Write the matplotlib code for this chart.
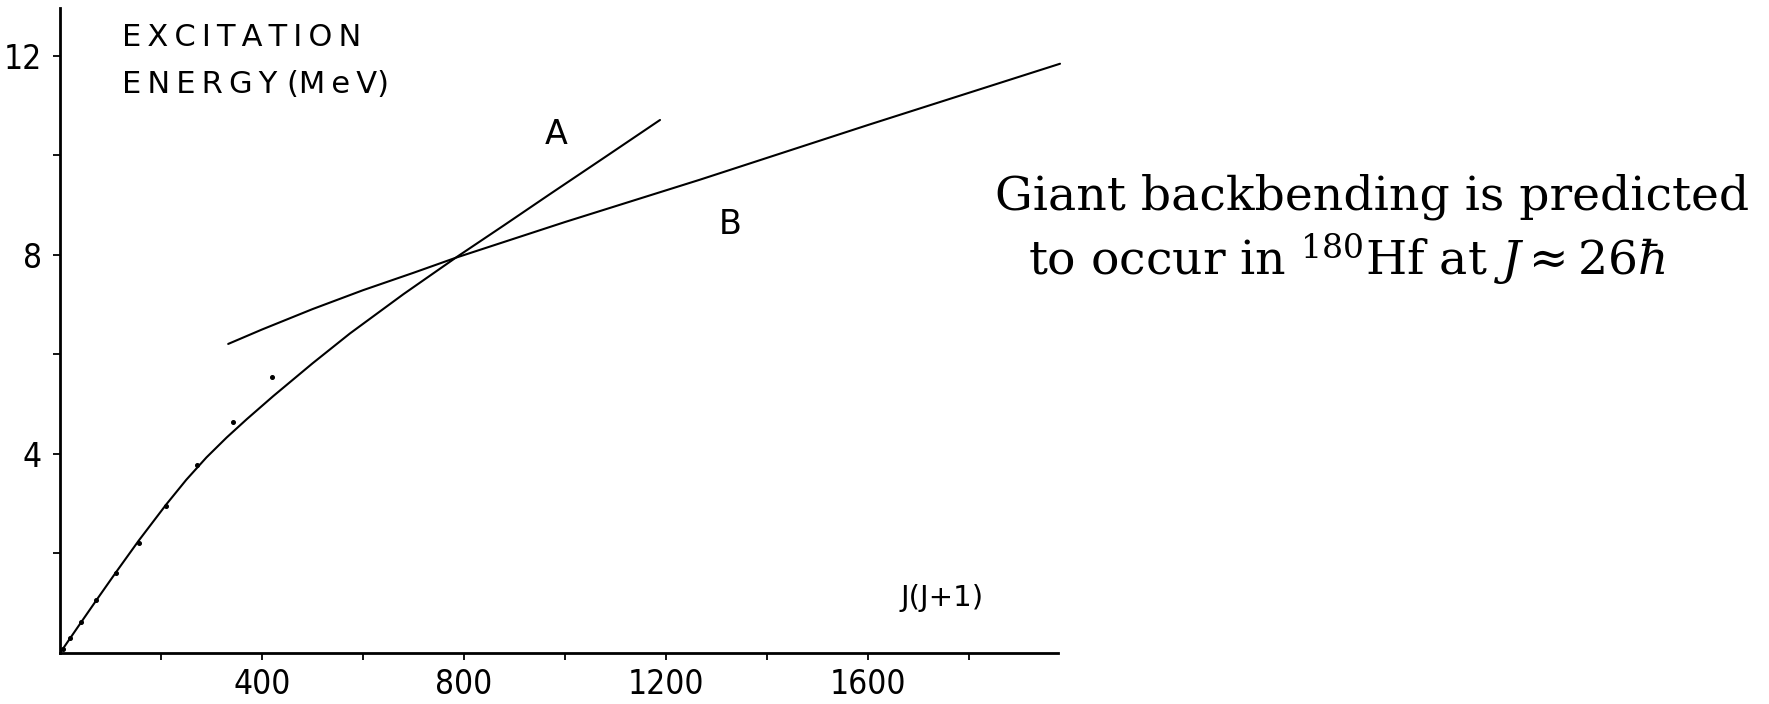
import matplotlib
matplotlib.use("Agg")
import matplotlib.pyplot as plt

# ---- data ----
# measured levels (J = 2 ... 20), x = J(J+1), y = excitation energy (MeV)
jj1_points = [6, 20, 42, 72, 110, 156, 210, 272, 342, 420]
energy_points = [0.09, 0.31, 0.62, 1.07, 1.61, 2.22, 2.95, 3.78, 4.64, 5.55]

# curve A (ground band, continues as straight line A)
curveA_x = [0, 42, 72, 110, 156, 210, 250, 290, 330, 370, 422, 500, 574, 680, 786, 880, 970, 1080, 1188]
curveA_y = [0, 0.62, 1.06, 1.61, 2.26, 2.98, 3.48, 3.93, 4.33, 4.70, 5.16, 5.82, 6.42, 7.21, 7.96, 8.60, 9.22, 9.97, 10.71]

# curve B (crossing band)
curveB_x = [333, 400, 500, 600, 700, 786, 1000, 1267, 1600, 1980]
curveB_y = [6.21, 6.50, 6.91, 7.29, 7.64, 7.95, 8.66, 9.51, 10.61, 11.84]

xtick_major = [400, 800, 1200, 1600]
xtick_minor = [200, 600, 1000, 1400, 1800]
ytick_major = [4, 8, 12]
ytick_minor = [2, 6, 10]

W, H = 1769, 704
fig = plt.figure(figsize=(W / 100, H / 100), dpi=100)
ax = fig.add_axes([60 / W, (H - 653) / H, (1058 - 60) / W, (653 - 8) / H])

ax.plot(curveA_x, curveA_y, color="black", lw=1.5, solid_capstyle="round", solid_joinstyle="round")
ax.plot(curveB_x, curveB_y, color="black", lw=1.5, clip_on=False, solid_capstyle="round",
        solid_joinstyle="round")
ax.plot(jj1_points, energy_points, ls="none", marker="o", ms=2.6, color="black")

ax.set_xlim(0, 1976)
ax.set_ylim(0, 12.96)
for s in ("top", "right"):
    ax.spines[s].set_visible(False)
for s in ("left", "bottom"):
    ax.spines[s].set_linewidth(2.0)

ax.set_xticks(xtick_major)
ax.set_xticks(xtick_minor, minor=True)
ax.set_yticks(ytick_major)
ax.set_yticks(ytick_minor, minor=True)
ax.tick_params(which="both", direction="out", length=5, width=1.3, color="black")
ax.tick_params(axis="x", pad=6)
ax.tick_params(axis="y", pad=8)
for lab in ax.get_xticklabels() + ax.get_yticklabels():
    lab.set_fontfamily("DejaVu Sans")
    lab.set_fontstretch("condensed")
    lab.set_fontsize(24)

sans = dict(family="DejaVu Sans", color="black")
ts = "\u2009"
ax.text(123, 12.66, ts.join("EXCITATION"), fontsize=22, ha="left", va="top", **sans)
ax.text(123, 11.26, ts.join("ENERGY") + " (M" + ts + "e" + ts + "V)", fontsize=22,
        ha="left", va="baseline", **sans)
ax.text(982, 10.41, "A", fontsize=24, ha="center", va="center", **sans)
ax.text(1327, 8.6, "B", fontsize=24, ha="center", va="center", **sans)
ax.text(1746, 1.1, "J(J+1)", fontsize=21, ha="center", va="center", **sans)

plt.rcParams["mathtext.fontset"] = "dejavuserif"
fig.text(995 / W, 1 - 210 / H, "Giant backbending is predicted",
         fontsize=34, family="DejaVu Serif", ha="left", va="baseline")
fig.text(1028 / W, 1 - 275 / H, r"to occur in $^{180}$Hf at $J \approx 26\hbar$",
         fontsize=34, family="DejaVu Serif", ha="left", va="baseline")

fig.savefig("out.png", dpi=100, facecolor="white")
